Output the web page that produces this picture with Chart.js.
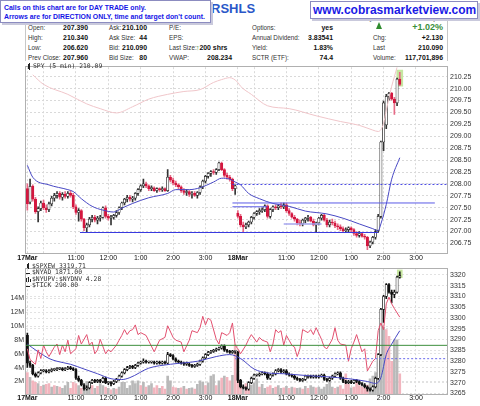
<!DOCTYPE html>
<html>
<head>
<meta charset="utf-8">
<script src="https://cdn.jsdelivr.net/npm/chart.js@4.4.1/dist/chart.umd.min.js"></script>
<style>
  html, body { margin:0; padding:0; background:#fff; }
  #wrap { position:relative; width:480px; height:406px; overflow:hidden; font-family:"Liberation Sans", Arial, sans-serif; }
  .a { position:absolute; white-space:nowrap; line-height:9px; }
  .l { font-size:6.3px; color:#333; }
  .v { font-size:6.9px; font-weight:bold; color:#111; text-align:right; }
  canvas { position:absolute; left:0; }
  .leg { position:absolute; white-space:nowrap; font-family:"DejaVu Sans Mono", monospace; font-size:6.4px; color:#333; line-height:7px; }
  .box { position:absolute; background:#fff; border:1px solid #8c8cc0; box-shadow:2px 2px 0 #c9c9dc; }
</style>
</head>
<body>
<div id="wrap">
  <div style="position:absolute;left:25px;top:19px;width:421px;height:42px;border-left:1px solid #c8c8c8;border-right:1px solid #c8c8c8;"></div>
  <div class="a" style="right:37px;top:13px;font-size:7px;color:#444;">Wednesday, 18 Mar 2015 2:35 pm</div>
  <div class="a" style="left:211px;top:2px;font-size:13px;line-height:14px;font-weight:bold;color:#2a57c8;">RSHLS</div>

  <div class="a l" style="left:28px;top:22.5px;">Open:</div>
  <div class="a l" style="left:28px;top:32.5px;">High:</div>
  <div class="a l" style="left:28px;top:42.5px;">Low:</div>
  <div class="a l" style="left:28px;top:52.5px;">Prev Close:</div>
  <div class="a v" style="right:392px;top:22.5px;">207.390</div>
  <div class="a v" style="right:392px;top:32.5px;">210.340</div>
  <div class="a v" style="right:392px;top:42.5px;">206.620</div>
  <div class="a v" style="right:392px;top:52.5px;">207.960</div>

  <div class="a l" style="left:109px;top:22.5px;">Ask:</div>
  <div class="a l" style="left:109px;top:32.5px;">Ask Size:</div>
  <div class="a l" style="left:109px;top:42.5px;">Bid:</div>
  <div class="a l" style="left:109px;top:52.5px;">Bid Size:</div>
  <div class="a v" style="right:333px;top:22.5px;">210.100</div>
  <div class="a v" style="right:333px;top:32.5px;">44</div>
  <div class="a v" style="right:333px;top:42.5px;">210.090</div>
  <div class="a v" style="right:333px;top:52.5px;">80</div>

  <div class="a l" style="left:169px;top:22.5px;">P/E:</div>
  <div class="a l" style="left:169px;top:32.5px;">EPS:</div>
  <div class="a l" style="left:169px;top:42.5px;">Last Size:</div>
  <div class="a l" style="left:169px;top:52.5px;">VWAP:</div>
  <div class="a v" style="left:196px;top:42.5px;text-align:left;"><span style="color:#2e8b2e;">&#8593;</span>200 shrs</div>
  <div class="a v" style="right:248px;top:52.5px;">208.234</div>

  <div class="a l" style="left:252px;top:22.5px;">Options:</div>
  <div class="a l" style="left:252px;top:32.5px;">Annual Dividend:</div>
  <div class="a l" style="left:252px;top:42.5px;">Yield:</div>
  <div class="a l" style="left:252px;top:52.5px;">SCTR (ETF):</div>
  <div class="a v" style="right:147px;top:22.5px;">yes</div>
  <div class="a v" style="right:147px;top:32.5px;">3.83541</div>
  <div class="a v" style="right:147px;top:42.5px;">1.83%</div>
  <div class="a v" style="right:147px;top:52.5px;">74.4</div>

  <div style="position:absolute;left:376px;top:22px;width:0;height:0;border-left:3.5px solid transparent;border-right:3.5px solid transparent;border-bottom:7px solid #2e8b2e;"></div>
  <div class="a" style="right:37px;top:21.5px;font-size:9px;line-height:11px;font-weight:bold;color:#3a8f3a;">+1.02%</div>
  <div class="a l" style="left:373px;top:32.5px;">Chg:</div>
  <div class="a l" style="left:373px;top:42.5px;">Last</div>
  <div class="a l" style="left:373px;top:52.5px;">Volume:</div>
  <div class="a v" style="right:37px;top:32.5px;">+2.130</div>
  <div class="a v" style="right:37px;top:42.5px;">210.090</div>
  <div class="a v" style="right:37px;top:52.5px;">117,701,896</div>

  <div class="box" style="left:310px;top:1px;width:166px;height:16px;">
    <div class="a" style="left:2px;top:1px;font-size:12px;line-height:14px;font-weight:bold;color:#1a1ae6;">www.cobrasmarketview.com</div>
  </div>
  <div class="box" style="left:0px;top:0px;width:209px;height:21px;">
    <div class="a" style="left:3px;top:1.5px;font-size:6.9px;font-weight:bold;color:#1414e6;">Calls on this chart are for DAY TRADE only.</div>
    <div class="a" style="left:3px;top:10.5px;font-size:6.9px;font-weight:bold;color:#1414e6;">Arrows are for DIRECTION ONLY, time and target don't count.</div>
  </div>

  <canvas id="c1" width="480" height="202" style="top:60px;"></canvas>
  <canvas id="c2" width="480" height="144" style="top:262px;"></canvas>

  <div style="position:absolute;left:28px;top:63.5px;width:2px;height:5px;background:#222;"></div>
  <div style="position:absolute;left:28.5px;top:62.5px;width:1px;height:7px;background:#222;"></div>
  <div class="leg" style="left:33px;top:62.5px;">SPY (5 min) 210.09</div>

  <div style="position:absolute;left:27px;top:264px;width:2px;height:4px;background:#222;"></div>
  <div style="position:absolute;left:27.5px;top:263px;width:1px;height:6px;background:#222;"></div>
  <div class="leg" style="left:32px;top:262.5px;">$SPXEW 3319.71</div>
  <div style="position:absolute;left:26px;top:272.5px;width:4px;height:1px;background:#222;"></div>
  <div class="leg" style="left:32px;top:269px;">$NYAD 1871.00</div>
  <div style="position:absolute;left:26px;top:278px;width:1px;height:4px;background:#222;"></div>
  <div style="position:absolute;left:28px;top:276.5px;width:1px;height:5.5px;background:#222;"></div>
  <div style="position:absolute;left:30px;top:279px;width:1px;height:3px;background:#222;"></div>
  <div class="leg" style="left:32px;top:275.5px;">$NYUPV:$NYDNV 4.28</div>
  <div style="position:absolute;left:26px;top:285.5px;width:4px;height:1px;background:#222;"></div>
  <div class="leg" style="left:32px;top:282px;">$TICK 290.00</div>
</div>

<script>
// ---------- axis ticks ----------
const timeTickIdx = [0, 6, 18, 30, 42, 54, 66, 78, 84, 96, 108, 120, 132, 144];
const timeLabels = ['17Mar', '', '11:00', '12:00', '1:00', '2:00', '3:00', '18Mar', '', '11:00', '12:00', '1:00', '2:00', '3:00'];
const spyTicks = [206.75, 207.00, 207.25, 207.50, 207.75, 208.00, 208.25, 208.50, 208.75, 209.00, 209.25, 209.50, 209.75, 210.00, 210.25];
const ewTicks = [3265, 3270, 3275, 3280, 3285, 3290, 3295, 3300, 3305, 3310, 3315, 3320];
const volTicks = [2, 4, 6, 8, 10, 12, 14];

// ---------- SPY 5-min OHLC (bar index 0 = 17 Mar 9:30) ----------
const spyOpen = [
207.90,207.62,207.95,207.68,207.42,207.48,207.60,207.50,207.46,207.58,
207.70,207.76,207.80,207.72,207.78,207.74,207.80,207.76,207.52,207.40,
207.44,207.26,207.08,207.14,207.26,207.30,207.24,207.28,207.30,207.50,
207.32,207.28,207.30,207.34,207.40,207.50,207.60,207.68,207.72,207.68,
207.70,207.80,207.88,207.96,208.00,207.96,207.90,207.92,207.86,207.90,
207.88,207.90,207.86,208.14,208.08,208.02,207.98,207.94,207.86,207.82,
207.84,207.78,207.80,207.76,207.82,207.94,208.06,208.16,208.22,208.26,
208.24,208.30,208.44,208.30,208.18,208.14,208.10,207.90,
207.39,207.32,207.14,207.10,207.14,207.20,207.30,207.38,207.42,207.44,
207.46,207.54,207.32,207.46,207.52,207.50,207.54,207.52,207.56,207.44,
207.38,207.30,207.26,207.18,207.16,207.24,207.28,207.30,207.22,207.14,
207.18,207.28,207.34,207.24,207.14,207.20,207.18,207.12,207.10,207.06,
207.02,207.04,207.08,207.04,206.96,206.92,206.96,206.90,206.88,206.70,
206.78,206.88,207.02,207.32,208.88,209.24,209.84,209.90,209.78,209.70,
210.20];
const spyHigh = [
208.00,208.10,207.98,207.72,207.52,207.64,207.66,207.56,207.62,207.74,
207.80,207.84,207.84,207.82,207.84,207.84,207.86,207.80,207.56,207.48,
207.46,207.28,207.18,207.30,207.34,207.34,207.32,207.34,207.52,207.54,
207.36,207.34,207.36,207.44,207.52,207.62,207.70,207.76,207.76,207.74,
207.82,207.90,207.98,208.10,208.04,207.98,207.96,207.94,207.92,207.92,
207.94,207.92,208.30,208.18,208.12,208.06,208.00,207.96,207.90,207.88,
207.86,207.84,207.84,207.84,207.96,208.08,208.18,208.24,208.28,208.30,
208.32,208.46,208.46,208.32,208.22,208.18,208.12,207.98,
207.44,207.36,207.20,207.18,207.22,207.32,207.40,207.44,207.48,207.50,
207.56,207.56,207.48,207.54,207.56,207.56,207.60,207.60,207.60,207.48,
207.40,207.34,207.28,207.24,207.26,207.30,207.34,207.32,207.26,207.20,
207.30,207.36,207.36,207.28,207.24,207.26,207.22,207.16,207.14,207.10,
207.08,207.10,207.10,207.06,207.00,207.00,206.98,206.94,206.90,206.80,
206.90,207.04,207.36,208.90,209.74,209.88,209.92,209.92,209.82,210.22,
210.34];
const spyLow = [
207.45,207.58,207.64,207.38,207.20,207.44,207.46,207.40,207.42,207.54,
207.64,207.70,207.68,207.66,207.70,207.70,207.72,207.48,207.36,207.22,
207.22,207.02,206.98,207.10,207.20,207.20,207.16,207.22,207.28,207.28,
207.24,207.14,207.26,207.30,207.36,207.46,207.56,207.62,207.64,207.62,
207.66,207.76,207.84,207.92,207.92,207.86,207.86,207.84,207.82,207.84,
207.84,207.84,207.84,208.04,207.98,207.94,207.90,207.82,207.78,207.76,
207.74,207.70,207.74,207.70,207.78,207.90,208.02,208.12,208.16,208.20,
208.20,208.28,208.28,208.14,208.10,208.06,207.86,207.78,
207.28,207.10,206.98,207.06,207.10,207.16,207.26,207.34,207.36,207.40,
207.42,207.28,207.28,207.42,207.46,207.46,207.48,207.48,207.40,207.34,
207.28,207.22,207.14,207.12,207.12,207.18,207.22,207.20,207.12,206.98,
207.14,207.24,207.22,207.10,207.10,207.14,207.08,207.04,207.02,206.98,
206.98,207.00,207.00,206.92,206.88,206.88,206.88,206.84,206.62,206.66,
206.74,206.84,206.98,207.28,208.70,209.16,209.76,209.76,209.46,209.64,
210.06];
const spyClose = [
207.58,207.95,207.68,207.42,207.48,207.60,207.50,207.46,207.58,207.70,
207.76,207.80,207.72,207.78,207.74,207.80,207.76,207.52,207.40,207.44,
207.26,207.08,207.14,207.26,207.30,207.24,207.28,207.30,207.50,207.32,
207.28,207.30,207.34,207.40,207.50,207.60,207.68,207.72,207.68,207.70,
207.80,207.88,207.96,208.00,207.96,207.90,207.92,207.86,207.90,207.88,
207.90,207.86,208.14,208.08,208.02,207.98,207.94,207.86,207.82,207.84,
207.78,207.80,207.76,207.82,207.94,208.06,208.16,208.22,208.26,208.24,
208.30,208.44,208.30,208.18,208.14,208.10,207.90,207.96,
207.32,207.14,207.10,207.14,207.20,207.30,207.38,207.42,207.44,207.46,
207.54,207.32,207.46,207.52,207.50,207.54,207.52,207.56,207.44,207.38,
207.30,207.26,207.18,207.16,207.24,207.28,207.30,207.22,207.14,207.18,
207.28,207.34,207.24,207.14,207.20,207.18,207.12,207.10,207.06,207.02,
207.04,207.08,207.04,206.96,206.92,206.96,206.90,206.88,206.70,206.78,
206.88,207.00,207.32,208.88,209.70,209.84,209.90,209.78,209.70,210.20,
210.09];

// SPY overlays (bar index, value)
const spyMaIdx = [0,2,8,15,17,20,24,28,32,35,39,45,52,55,60,64,69,72,75,77,79,82,86,91,97,103,111,117,123,128,130,131,133,135,138];
const spyMaVal = [208.39,208.14,207.98,207.88,207.84,207.69,207.53,207.45,207.41,207.49,207.59,207.71,207.80,207.88,207.88,207.92,208.04,208.12,208.10,208.04,207.98,207.80,207.69,207.59,207.53,207.43,207.37,207.28,207.16,207.06,207.02,207.16,207.57,208.10,208.55];
const spyBandIdx = [2,6,15,22,27,33,39,45,52,58,64,69,72,75,78,79,83,89,97,107,116,123,128,130,132,133,134,135,136,137];
const spyBandVal = [210.29,210.09,209.88,209.68,209.58,209.49,209.62,209.78,209.88,209.94,209.98,210.13,210.19,210.23,210.13,210.05,209.88,209.64,209.58,209.43,209.31,209.23,209.13,209.10,209.27,209.55,209.80,210.05,210.25,210.45];

// drawn price levels (upper panel)
const levelPrice = [206.98, 207.60, 207.52, 207.16, 207.99];
const levelFrom  = [19.5, 76, 76, 95, 76];
const levelTo    = [130, 151, 89, 109, 155.5];

// ---------- $SPXEW 5-min OHLC ----------
const ewOpen = [
3292,3279,3278,3274,3273,3274.5,3275.5,3275.5,3275,3275.5,
3276,3276,3276.5,3276.5,3276,3276.5,3277,3276.5,3276,3272,
3271,3269,3267,3267.5,3270,3271,3270.5,3271,3270.5,3272,
3270,3270,3269.5,3270.5,3271.5,3273,3274.5,3276,3277,3277.5,
3277,3278,3279,3279.5,3280,3279.5,3279.5,3279.5,3279,3279.5,
3279,3279.5,3279,3283,3282.5,3281,3280,3279.5,3279,3278.5,
3278.5,3278,3277.5,3278,3278.5,3280,3281.5,3283,3284,3284.5,
3285,3285.5,3286,3287,3285,3284.5,3284,3284.5,
3284,3271,3268,3267.5,3267,3270,3272,3273.5,3273.5,3274,
3274.5,3274,3272,3273.5,3274,3275.5,3276,3275,3275.5,3274,
3273.5,3273,3272,3271.5,3271,3271.5,3273,3273,3272.5,3273,
3272.5,3273,3273.5,3271.5,3271,3272,3273,3274,3274.5,3272,
3270.5,3270,3270.5,3270,3271,3270.5,3269.5,3269,3268,3267,
3266.5,3268,3272,3283,3304,3310,3315.5,3312,3311,3312,
3319];
const ewHigh = [
3293,3280,3278.5,3274.5,3275,3276,3276,3276,3276,3276.5,
3276.5,3277,3277,3277,3277,3277.5,3277.5,3277,3276.5,3273,
3271.5,3269.5,3268.5,3270.5,3271.5,3271.5,3271.5,3271.5,3272.5,3272.5,
3270.5,3270.5,3271,3272,3273.5,3275,3276.5,3277.5,3278,3278,
3278.5,3279.5,3280,3281,3280.5,3280,3280,3280,3280,3280,
3280,3280,3284,3283.5,3283,3281.5,3280.5,3280,3279.5,3279.5,
3279,3278.5,3278.5,3279,3280.5,3282,3283.5,3284.5,3285,3285.5,
3286,3286.5,3287.5,3287.5,3285.5,3285,3285,3285,
3284.5,3271.5,3269,3268,3270.5,3272.5,3274,3274,3274.5,3275,
3275,3274.5,3274,3274.5,3276,3276.5,3276.5,3276,3276,3274.5,
3274,3273.5,3272.5,3272,3272,3273.5,3273.5,3273.5,3273.5,3273.5,
3273.5,3274,3274,3272,3272.5,3273.5,3274.5,3275,3275,3272.5,
3271,3271,3271,3271.5,3271.5,3271,3270,3269.5,3268.5,3267.5,
3268.5,3272.5,3283.5,3304.5,3310.5,3316,3316,3313,3313,3319.5,
3321.5];
const ewLow = [
3277,3277,3273.5,3272.5,3272.5,3274,3275,3274.5,3274.5,3275,
3275.5,3275.5,3276,3275.5,3275.5,3276,3276,3275.5,3271.5,3270.5,
3268.5,3266.5,3266.5,3267,3269.5,3270,3270,3270,3270,3269.5,
3269,3268.5,3269,3270,3271,3272.5,3274,3275.5,3276.5,3276.5,
3276.5,3277.5,3278.5,3279,3279,3279,3279,3278.5,3278.5,3278.5,
3278.5,3278.5,3278.5,3282,3280.5,3279.5,3279,3278.5,3278,3278,
3277.5,3277,3277,3277.5,3278,3279.5,3281,3282.5,3283.5,3284,
3284.5,3285,3285.5,3284.5,3284,3283.5,3283.5,3283.5,
3270,3267.5,3267,3266.5,3266.5,3269.5,3271.5,3273,3273,3273.5,
3273.5,3271.5,3271.5,3273,3273.5,3275,3274.5,3274.5,3273.5,3273,
3272.5,3271.5,3271,3270.5,3270.5,3271,3272,3272,3272,3272,
3272,3272.5,3271,3270.5,3270.5,3271.5,3272.5,3273.5,3271.5,3270,
3269.5,3269.5,3269.5,3269.5,3270,3269,3268.5,3267.5,3266,3266,
3266,3267.5,3271.5,3282.5,3298,3309,3311.5,3307,3309.5,3311.5,
3318.5];
const ewClose = [
3279,3278,3274,3273,3274.5,3275.5,3275.5,3275,3275.5,3276,
3276,3276.5,3276.5,3276,3276.5,3277,3276.5,3276,3272,3271,
3269,3267,3267.5,3270,3271,3270.5,3271,3270.5,3272,3270,
3270,3269.5,3270.5,3271.5,3273,3274.5,3276,3277,3277.5,3277,
3278,3279,3279.5,3280,3279.5,3279.5,3279.5,3279,3279.5,3279,
3279.5,3279,3283,3282.5,3281,3280,3279.5,3279,3278.5,3278.5,
3278,3277.5,3278,3278.5,3280,3281.5,3283,3284,3284.5,3285,
3285.5,3286,3287,3285,3284.5,3284,3284.5,3284.5,
3271,3268,3267.5,3267,3270,3272,3273.5,3273.5,3274,3274.5,
3274,3272,3273.5,3274,3275.5,3276,3275,3275.5,3274,3273.5,
3273,3272,3271.5,3271,3271.5,3273,3273,3272.5,3273,3272.5,
3273,3273.5,3271.5,3271,3272,3273,3274,3274.5,3272,3270.5,
3270,3270.5,3270,3271,3270.5,3269.5,3269,3268,3267,3266.5,
3268,3272,3283,3304,3310,3315.5,3312,3311,3312,3319,
3319.71];

const ewMaIdx = [0,4,8,11,16,21,26,31,35,38,45,53,63,70,75,79,84,89,95,104,111,119,126,129,131,133,135,138];
const ewMaVal = [3287.9,3284.3,3281.2,3279.9,3278.5,3276.3,3274.1,3271.8,3271.4,3272.3,3276.7,3278.5,3279.9,3282.1,3283.0,3281.2,3276.3,3274.5,3274.1,3273.2,3272.7,3271.8,3270.5,3269.6,3272.3,3283.0,3287.9,3294.1];

// $TICK line, read against the right-hand scale
const tickIdx = [0,1,3,4,5,6,7,8,10,11,12,13,14,15,16,18,19,20,22,23,24,25,26,27,29,30,31,33,34,35,36,37,38,39,40,41,42,44,47,49,51,52,54,55,57,58,60,61,63,64,65,66,67,68,70,71,72,74,75,76,77,78,79,81,82,83,85,86,87,89,90,91,92,93,94,95,96,98,99,100,101,102,104,105,106,107,109,110,111,113,114,115,116,118,119,120,121,122,124,125,126,128,129,130,131,132,133,134,135,136,138];
const tickVal = [3285.7,3280.7,3278.5,3285.2,3281.2,3287.4,3284.3,3282.1,3286.5,3287.9,3283.0,3287.4,3284.3,3289.7,3283.4,3285.7,3291.9,3287.9,3292.3,3287.4,3288.8,3283.4,3285.2,3290.1,3283.4,3285.2,3284.3,3287.4,3289.7,3291.9,3294.6,3292.3,3294.1,3294.6,3296.8,3292.3,3293.2,3291.9,3284.3,3289.7,3291.0,3296.4,3291.0,3289.7,3288.8,3284.3,3289.7,3294.1,3293.2,3295.5,3300.8,3296.8,3299.9,3299.0,3290.1,3287.9,3293.2,3291.9,3293.2,3297.7,3287.4,3285.7,3283.4,3287.4,3290.1,3292.3,3288.8,3291.0,3289.7,3288.8,3284.3,3287.9,3294.6,3293.2,3294.1,3287.4,3291.9,3287.4,3286.5,3282.1,3285.7,3294.6,3293.2,3294.6,3292.3,3295.5,3290.1,3286.5,3285.7,3290.1,3295.5,3289.7,3287.9,3287.4,3279.9,3285.7,3288.8,3292.3,3284.3,3285.7,3275.4,3279.9,3281.2,3294.1,3297.7,3294.6,3306.6,3309.7,3306.6,3304.4,3300.4];

// $NYUPV:$NYDNV histogram (M) and side (u = up, d = down)
const breadthVol = [
3.3,2.6,2.1,1.9,1.7,1.3,1.5,1.6,1.7,1.2,1.4,1.3,1.2,1.0,1.4,1.9,1.0,1.9,1.7,1.4,
1.0,0.8,2.0,1.7,1.4,1.0,1.3,1.7,1.4,1.2,1.0,0.8,1.0,0.9,1.2,1.9,1.9,1.0,1.4,
2.1,1.7,2.1,1.4,1.9,1.2,1.4,1.7,1.1,1.4,1.0,1.3,0.9,2.8,2.1,1.2,1.1,1.0,1.1,1.3,
0.9,1.0,1.1,0.9,1.6,2.1,1.9,1.4,1.8,2.8,3.0,1.4,2.1,2.5,2.8,2.6,2.1,2.9,7.3,
3.1,1.9,1.3,1.7,1.2,1.5,1.8,2.4,1.2,1.6,1.0,1.2,1.4,1.0,1.2,1.4,1.0,1.1,1.3,1.0,
1.2,1.1,1.0,1.1,0.9,1.3,1.0,1.4,1.2,1.1,1.2,0.9,1.2,1.6,1.9,1.2,1.0,1.2,1.4,0.9,
3.1,1.6,1.1,1.2,1.9,1.4,1.2,1.1,1.5,2.4,2.8,3.3,4.9,10.0,9.8,9.5,8.5,4.9,8.0,8.0,
3.1];
const breadthSide = "duddududdu" + "duduuudddu" + "duuududuud" + "ududuuuuu" + "uuududuudd" + "udduuddudu" + "duuduuuduu" + "udududdud" +
  "ddudduuudu" + "udduduudud" + "uduududuud" + "uuuuuududd" + "dduddddddu" + "uuuuuddduu" + "d";

// drawn levels (lower panel)
const ewLevelVal = [3287.3, 3281.1];
const ewLevelFrom = [-0.5, 77];
const ewLevelTo = [155.5, 155.5];

// ---------- rendering ----------
const FONT = '"Liberation Sans", Arial, sans-serif';
const GRID = '#d9d9d9';

const framePlugin = {
  id: 'frame',
  afterDatasetsDraw(ch) {
    const a = ch.chartArea, c = ch.ctx;
    const l = Math.round(a.left), t = Math.round(a.top), r = Math.round(a.right), b = Math.round(a.bottom);
    c.save(); c.strokeStyle = '#b0b0b0'; c.lineWidth = 1;
    c.strokeRect(l - 0.5, t - 0.5, r - l + 1, b - t + 1);
    c.restore();
  }
};

function xScale(h, pad) {
  return {
    type: 'linear', min: -0.5, max: 155.5, position: 'bottom', offset: false,
    afterBuildTicks: s => { s.ticks = timeTickIdx.map(v => ({ value: v })); },
    afterFit: s => { s.height = h; },
    ticks: {
      autoSkip: false, maxRotation: 0, minRotation: 0, padding: pad, color: '#111',
      callback: (v, i) => timeLabels[i],
      font: c => ({ family: FONT, size: 7, weight: /Mar/.test(timeLabels[c.index] || '') ? 'bold' : 'normal' })
    },
    grid: { color: GRID, drawTicks: false, offset: false, borderDash: [2, 2] },
    border: { display: false, dash: [2, 2] }
  };
}

function yScale(pos, min, max, tickList, width, pad, fmt, gridColor) {
  return {
    type: 'linear', position: pos, min: min, max: max,
    afterBuildTicks: s => { s.ticks = tickList.map(v => ({ value: v })); },
    afterFit: s => { s.width = width; },
    ticks: { autoSkip: false, padding: pad, color: '#333', font: { family: FONT, size: 7 }, callback: fmt },
    grid: { color: gridColor, drawTicks: false, borderDash: [2, 2] },
    border: { display: false, dash: [2, 2] }
  };
}

function pts(ix, vals) { return ix.map((x, k) => ({ x: x, y: vals[k] })); }

function candles(o, h, l, c, axis, upFill, upLine, dnFill, upWick, dnWick, base) {
  const up = o.map((v, i) => c[i] >= v);
  return [
    { type: 'bar', yAxisID: axis, order: base,
      data: o.map((v, i) => ({ x: i, y: [Math.min(v, c[i]), Math.max(v, c[i])] })),
      backgroundColor: up.map(u => u ? upFill : dnFill),
      borderColor: up.map(u => u ? upLine : dnFill),
      borderWidth: 0.7, borderSkipped: false, barThickness: 2.4, minBarLength: 1, grouped: false },
    { type: 'bar', yAxisID: axis, order: base + 1,
      data: o.map((v, i) => ({ x: i, y: [l[i], h[i]] })),
      backgroundColor: up.map(u => u ? upWick : dnWick),
      borderWidth: 0, barThickness: 1, grouped: false }
  ];
}

const RED = '#d3173f';
const BLUE = '#4848c4';
const last = spyClose.length - 1;

const levelStyles = [
  { color: '#3a3ae0', width: 1, dash: [] },
  { color: '#5a5ae6', width: 1, dash: [] },
  { color: '#5a5ae6', width: 1, dash: [] },
  { color: '#a4a4ee', width: 1.5, dash: [] },
  { color: '#3a3ae0', width: 1, dash: [2, 2] }
];

const upperSets = [
  ...levelPrice.map((p, k) => ({ type: 'line', order: 0, data: [{ x: levelFrom[k], y: p }, { x: levelTo[k], y: p }],
    borderColor: levelStyles[k].color, borderWidth: levelStyles[k].width, borderDash: levelStyles[k].dash, pointRadius: 0 })),
  { type: 'line', order: 0, data: pts(spyMaIdx, spyMaVal), borderColor: BLUE, borderWidth: 1, pointRadius: 0, cubicInterpolationMode: 'monotone' },
  { type: 'line', order: 0, data: pts(spyBandIdx, spyBandVal), borderColor: '#f0c6ca', borderWidth: 1, pointRadius: 0, cubicInterpolationMode: 'monotone' },
  ...candles(spyOpen, spyHigh, spyLow, spyClose, 'y', '#ffffff', '#222222', RED, '#333333', '#e66a86', 1),
  { type: 'bar', order: 5, data: [{ x: last, y: [210.05, 210.39] }], backgroundColor: '#c6e6a0', barThickness: 6, grouped: false }
];

new Chart(document.getElementById('c1'), {
  type: 'bar',
  data: { datasets: upperSets },
  plugins: [framePlugin],
  options: {
    responsive: false, animation: false, events: [], devicePixelRatio: 1,
    layout: { padding: { left: 26, top: 2, right: 0, bottom: 0 } },
    plugins: { legend: { display: false }, tooltip: { enabled: false } },
    scales: {
      x: xScale(9, 1),
      y: yScale('right', 206.55, 210.45, spyTicks, 33, 3, v => Number(v).toFixed(2), GRID)
    }
  }
});

const lowerSets = [
  ...ewLevelVal.map((v, k) => ({ type: 'line', order: 0, yAxisID: 'y', data: [{ x: ewLevelFrom[k], y: v }, { x: ewLevelTo[k], y: v }],
    borderColor: k === 0 ? '#3d8f3d' : '#6a6aec', borderWidth: 1, borderDash: k === 0 ? [] : [2, 2], pointRadius: 0 })),
  { type: 'line', order: 0, yAxisID: 'y', data: pts(tickIdx, tickVal), borderColor: '#e2506f', borderWidth: 1, pointRadius: 0 },
  { type: 'line', order: 0, yAxisID: 'y', data: pts(ewMaIdx, ewMaVal), borderColor: BLUE, borderWidth: 1, pointRadius: 0, cubicInterpolationMode: 'monotone' },
  ...candles(ewOpen, ewHigh, ewLow, ewClose, 'y', '#ffffff', '#111111', '#111111', '#111111', '#111111', 1),
  { type: 'bar', order: 5, yAxisID: 'y', data: [{ x: last, y: [3318.8, 3322.4] }], backgroundColor: '#c6e6a0', barThickness: 5, grouped: false },
  { type: 'bar', order: 6, yAxisID: 'yV', data: breadthVol.map((v, i) => ({ x: i, y: v })),
    backgroundColor: breadthVol.map((v, i) => breadthSide[i] === 'd' ? '#f2b5be' : '#b9b9b9'),
    borderWidth: 0, barThickness: 2, grouped: false }
];

new Chart(document.getElementById('c2'), {
  type: 'bar',
  data: { datasets: lowerSets },
  plugins: [framePlugin],
  options: {
    responsive: false, animation: false, events: [], devicePixelRatio: 1,
    layout: { padding: { left: 0, top: 2, right: 0, bottom: 0 } },
    plugins: { legend: { display: false }, tooltip: { enabled: false } },
    scales: {
      x: xScale(12, 0),
      yV: yScale('left', 0.2, 18.2, volTicks, 26, 2, v => v + 'M', '#e2e2e2'),
      y: yScale('right', 3264.69, 3322.68, ewTicks, 33, 3, v => String(v), '#e2e2e2')
    }
  }
});
</script>
</body>
</html>
